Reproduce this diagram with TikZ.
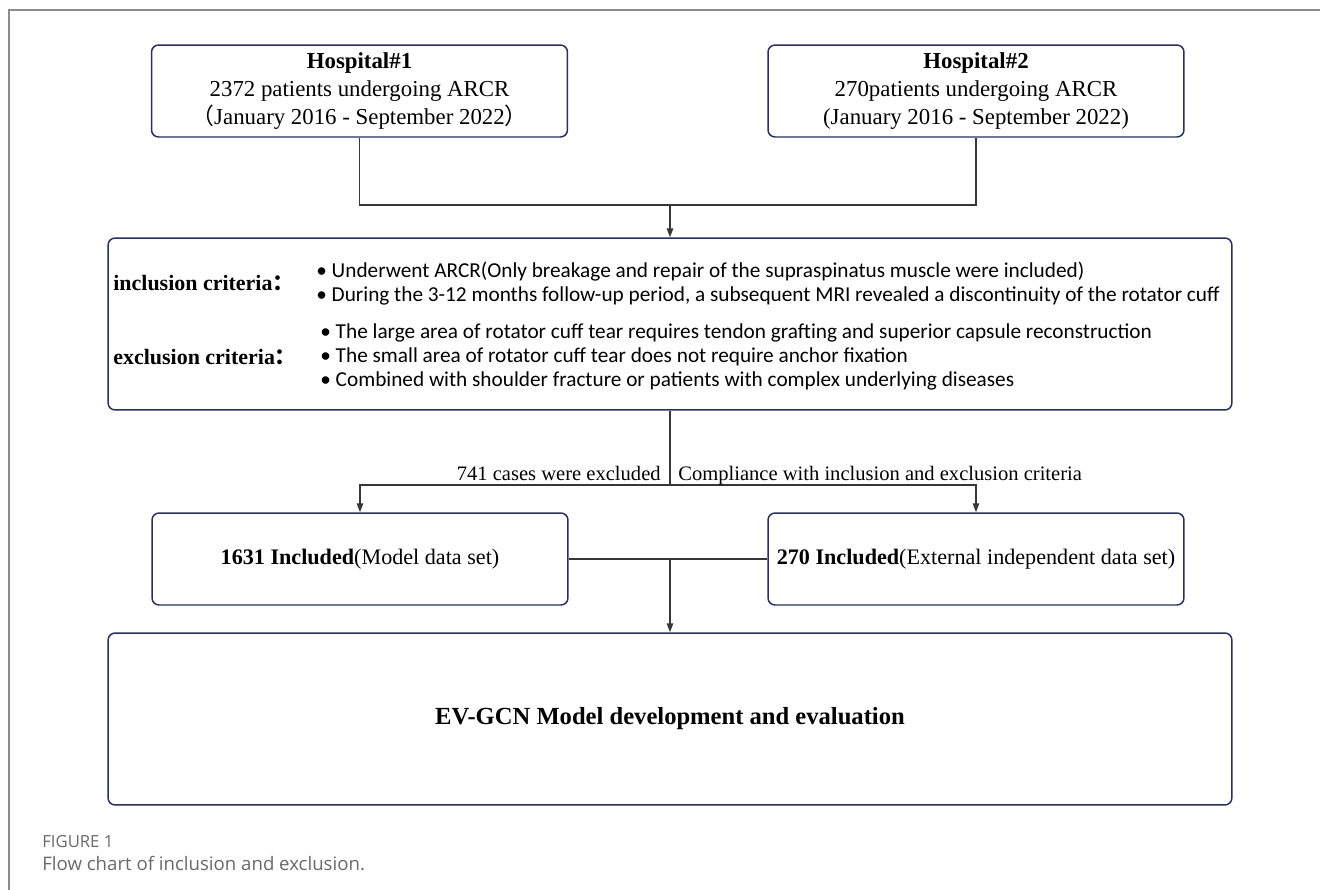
\documentclass[tikz,border=0pt]{standalone}
\usepackage{fontspec}
\setmainfont{Liberation Serif}
\newfontfamily\bulletfont{Carlito}
\newfontfamily\capfont{Open Sans}
\newfontfamily\cjk{Noto Sans CJK SC}
\usepackage{xcolor}
\usepackage{tikz}
\usetikzlibrary{positioning, arrows.meta, calc}
\definecolor{boxline}{RGB}{42,47,92}
\definecolor{linkline}{RGB}{55,55,55}
\definecolor{framegray}{RGB}{140,140,140}
\definecolor{capgray}{RGB}{105,105,105}

\begin{document}
\begin{tikzpicture}[x=0.02cm, y=-0.02cm,
          box/.style={draw=boxline, line width=0.85pt, rounded corners=4pt, inner sep=0pt, align=center},
          hbox/.style={box, minimum width=8.32cm, minimum height=1.84cm, font=\fontsize{13}{16}\selectfont},
          bigbox/.style={box, minimum width=22.48cm, minimum height=3.44cm},
          link/.style={draw=linkline, line width=0.75pt},
          arr/.style={link, -{Triangle[length=5pt, width=3.6pt]}},
          edgelbl/.style={inner sep=0pt, font=\fontsize{11.7}{13}\selectfont},
          critlbl/.style={inner sep=0pt, anchor=west, font=\bfseries\fontsize{12.5}{15}\selectfont},
          critlist/.style={inner sep=0pt, anchor=west, align=left, font=\bulletfont\fontsize{12.1}{13.6}\selectfont}]
          \useasboundingbox (0,0) rectangle (1320,890);
          % frame of the figure
          \draw[framegray, line width=1.4pt] (9,890) -- (9,10) -- (1320,10);

          \node[hbox] (h1) at (359.5,91) {\textbf{Hospital\#1}\\2372 patients undergoing ARCR\\{\cjk（}January 2016 - September 2022{\cjk）}};
          \node[hbox] (h2) at (976,91) {\textbf{Hospital\#2}\\270patients undergoing ARCR\\(January 2016 - September 2022)};

          \node[bigbox] (crit) at (670,324) {};
          \node[critlbl] (inlbl) at (113,283.5) {inclusion criteria{\cjk ：}};
          \node[critlist] (inlist) at (316,283.5) {• Underwent ARCR(Only breakage and repair of the supraspinatus muscle were included)\\• During the 3-12 months follow-up period, a subsequent MRI revealed a discontinuity of the rotator cuff};
          \node[critlbl] (exlbl) at (113,357) {exclusion criteria{\cjk ：}};
          \node[critlist] (exlist) at (320,357) {• The large area of rotator cuff tear requires tendon grafting and superior capsule reconstruction\\• The small area of rotator cuff tear does not require anchor fixation\\• Combined with shoulder fracture or patients with complex underlying diseases};

          \node[hbox, font=\fontsize{12.6}{15}\selectfont] (inc1) at (360,559) {\textbf{1631 Included}(Model data set)};
          \node[hbox, font=\fontsize{12.6}{15}\selectfont] (inc2) at (976,559) {\textbf{270 Included}(External independent data set)};

          \node[bigbox, font=\bfseries\fontsize{14}{17}\selectfont] (model) at (670,719) {EV-GCN Model development and evaluation};

          \coordinate (j1) at (670,205);
          \coordinate (j2) at (670,485);
          \coordinate (j3) at (670,559);

          \draw[link] (h1.south) |- (j1) -| (h2.south);
          \draw[arr] (j1) -- (crit.north);
          \draw[link] (crit.south) -- (j2);
          \draw[arr] (j2) -| (inc1.north);
          \draw[arr] (j2) -| (inc2.north);
          \draw[link] (inc1.east) -- (inc2.west);
          \draw[arr] (j3) -- (model.north);

          \node[edgelbl, anchor=base east] (exnote) at (661,480) {741 cases were excluded};
          \node[edgelbl, anchor=base west] (innote) at (678,480) {Compliance with inclusion and exclusion criteria};

          \node[inner sep=0pt, anchor=base west, text=capgray, font=\capfont\fontsize{9.5}{11}\selectfont] (fignum) at (42,847) {FIGURE 1};
          \node[inner sep=0pt, anchor=base west, text=capgray, font=\capfont\fontsize{10.6}{12}\selectfont] (figcap) at (42,870) {Flow chart of inclusion and exclusion.};
        \end{tikzpicture}
\end{document}
